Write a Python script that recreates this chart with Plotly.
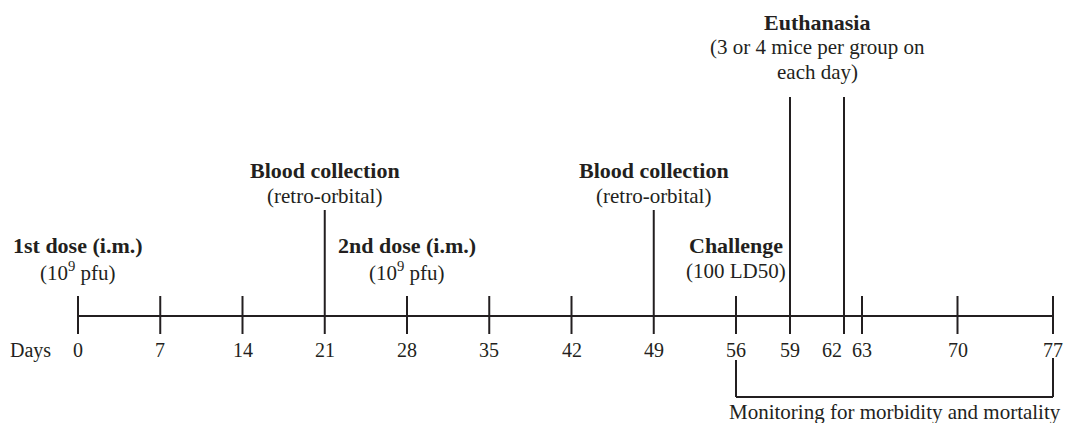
import plotly.graph_objects as go

# ---------------- data ----------------
tick_days = [0, 7, 14, 21, 28, 35, 42, 49, 56, 59, 62, 63, 70, 77]
short_tick_days = [0, 7, 14, 28, 35, 42, 56, 63, 70, 77]
blood_days = [21, 49]
euthanasia_days = [59, 62]
monitor_span = [56, 77]

event_days = [0, 21, 28, 49, 56]
event_titles = ["1st dose (i.m.)", "Blood collection", "2nd dose (i.m.)",
                "Blood collection", "Challenge"]
event_details = ["(10<sup>9</sup> pfu)", "(retro-orbital)", "(10<sup>9</sup> pfu)",
                 "(retro-orbital)", "(100 LD50)"]
euth_title = "Euthanasia"
euth_details = ["(3 or 4 mice per group on", "each day)"]
monitor_label = "Monitoring for morbidity and mortality"
axis_label = "Days"

# ---------------- layout (piecewise timeline scale) ----------------
W, H = 1067, 423
# (first day, last day, left px, right px) for each stretch of the timeline
SEGMENTS = [(0, 56, 78, 736), (56, 63, 736, 862), (63, 77, 862, 1053)]
PAD = 30
INK = "#231f20"
FONT = "Liberation Serif, Times New Roman, serif"
LW = 2
TITLE_SIZE = 22
DETAIL_SIZE = 21
TICK_SIZE = 20

def axname(i):
    return "x" if i == 0 else f"x{i+1}"

def seg_of(day):
    for i, (d0, d1, p0, p1) in enumerate(SEGMENTS):
        if d0 <= day <= d1:
            return i
    return len(SEGMENTS) - 1

def to_px(day):
    d0, d1, p0, p1 = SEGMENTS[seg_of(day)]
    return p0 + (day - d0) * (p1 - p0) / (d1 - d0)

xs = [[] for _ in SEGMENTS]
ys = [[] for _ in SEGMENTS]

def vline(day, y0, y1):
    i = seg_of(day)
    xs[i] += [day, day, None]
    ys[i] += [y0, y1, None]

def hline(a, b, y):
    for i, (d0, d1, p0, p1) in enumerate(SEGMENTS):
        lo, hi = max(a, d0), min(b, d1)
        if lo < hi:
            xs[i] += [lo, hi, None]
            ys[i] += [y, y, None]

AXIS_Y = 316
TICK_TOP, TICK_BOT = 296, 334

hline(tick_days[0], tick_days[-1], AXIS_Y)
for d in short_tick_days:
    vline(d, TICK_TOP, TICK_BOT)
for d in blood_days:
    vline(d, 210, TICK_BOT)
for d in euthanasia_days:
    vline(d, 97, TICK_BOT)
# monitoring bracket
vline(monitor_span[0], 360, 397)
vline(monitor_span[1], 358, 397)
hline(monitor_span[0], monitor_span[1], 397)

fig = go.Figure()
for i in range(len(SEGMENTS)):
    fig.add_trace(go.Scatter(x=xs[i], y=ys[i], mode="lines",
                             line=dict(color=INK, width=LW),
                             xaxis=axname(i), yaxis="y",
                             hoverinfo="skip", showlegend=False))

layout_axes = {}
for i, (d0, d1, p0, p1) in enumerate(SEGMENTS):
    s = (p1 - p0) / (d1 - d0)
    left = max(0, p0 - PAD)
    right = min(W, p1 + PAD)
    key = "xaxis" if i == 0 else f"xaxis{i+1}"
    layout_axes[key] = dict(domain=[left / W, right / W],
                            range=[d0 - (p0 - left) / s, d1 + (right - p1) / s],
                            visible=False, fixedrange=True, anchor="y")

annotations = []

def ann(day, y, text, bold=False, size=DETAIL_SIZE, xshift=0, xanchor="center", xref=None):
    annotations.append(dict(
        x=day, y=y, xref=xref or axname(seg_of(day)), yref="y",
        text=f"<b>{text}</b>" if bold else text, showarrow=False,
        xanchor=xanchor, yanchor="middle", xshift=xshift,
        font=dict(family=FONT, size=size, color=INK)))

label_shift = {62: -12}
for d in tick_days:
    ann(d, 350, str(d), size=TICK_SIZE, xshift=label_shift.get(d, 0))
ann(0, 350, axis_label, size=TICK_SIZE, xanchor="right", xshift=-25)

TITLE_Y = {0: 245, 21: 170, 28: 245, 49: 170, 56: 245}
for d, t, det in zip(event_days, event_titles, event_details):
    ann(d, TITLE_Y[d], t, bold=True, size=TITLE_SIZE)
    ann(d, TITLE_Y[d] + 26, det)

euth_center = sum(euthanasia_days) / len(euthanasia_days)
ann(euth_center, 22, euth_title, bold=True, size=TITLE_SIZE)
for k, line in enumerate(euth_details):
    ann(euth_center, 47 + 25 * k, line)

mon_center_px = (to_px(monitor_span[0]) + to_px(monitor_span[1])) / 2
ann(mon_center_px / W, 412, monitor_label, xref="paper")

fig.update_layout(
    width=W, height=H,
    margin=dict(l=0, r=0, t=0, b=0),
    paper_bgcolor="white", plot_bgcolor="rgba(0,0,0,0)",
    yaxis=dict(range=[H, 0], domain=[0, 1], visible=False, fixedrange=True),
    annotations=annotations,
    showlegend=False,
    **layout_axes,
)

fig.write_html(
    "out.html",
    config={"displayModeBar": False},
    post_script="document.body.style.margin='0';document.body.style.overflow='hidden';",
)
